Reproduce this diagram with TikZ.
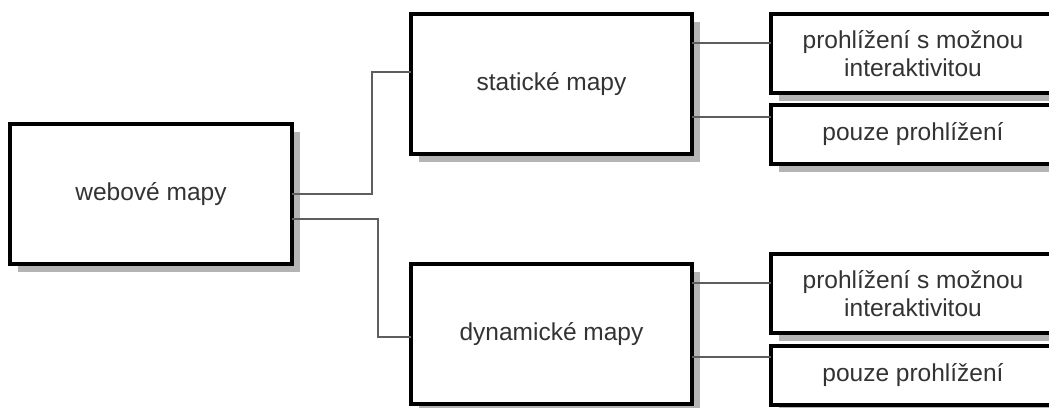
\documentclass[tikz,border=0pt]{standalone}
\usepackage{fontspec}
\setmainfont{Liberation Sans}
\usetikzlibrary{shadows}
\definecolor{txt}{HTML}{333333}
\definecolor{conncol}{HTML}{5E5E5E}
\definecolor{shad}{HTML}{B4B4B4}
\tikzset{
  box/.style={draw=black, line width=3.6pt, fill=white, rectangle, outer sep=0pt, inner sep=0pt,
    text=txt, align=center, font=\fontsize{24.5}{28}\selectfont,
    general shadow={shadow xshift=8pt, shadow yshift=-8pt, fill=shad}},
  conn/.style={draw=conncol, line width=2.6pt},
}
\begin{document}
\begin{tikzpicture}[x=1pt,y=-1pt]
\clip (0,0) rectangle (1049,407);
\useasboundingbox (0,0) rectangle (1049,407);
\node[box, minimum width=282pt, minimum height=140pt] (web) at (151,194) {webové mapy};
\node[box, minimum width=281pt, minimum height=140pt] (stat) at (551.5,84) {statické mapy};
\node[box, minimum width=281pt, minimum height=140pt] (dyn) at (551.5,334) {dynamické mapy};
\node[box, minimum width=284pt, minimum height=79pt] (s1) at (913,53.5) {prohlížení s možnou\\interaktivitou};
\node[box, minimum width=284pt, minimum height=59pt] (s2) at (913,134.5) {pouze prohlížení};
\node[box, minimum width=284pt, minimum height=79pt] (d1) at (913,293.5) {prohlížení s možnou\\interaktivitou};
\node[box, minimum width=284pt, minimum height=59pt] (d2) at (913,375.5) {pouze prohlížení};
\draw[conn] (web.east) -- ++(80,0) |- ([yshift=12pt]stat.west);
\draw[conn] ([yshift=-25pt]web.east) -- ++(86,0) |- ([yshift=-3pt]dyn.west);
\draw[conn] ([yshift=41pt]stat.east) -- ([yshift=41pt]stat.east -| s1.west);
\draw[conn] ([yshift=-33pt]stat.east) -- ([yshift=-33pt]stat.east -| s2.west);
\draw[conn] ([yshift=51pt]dyn.east) -- ([yshift=51pt]dyn.east -| d1.west);
\draw[conn] ([yshift=-23pt]dyn.east) -- ([yshift=-23pt]dyn.east -| d2.west);
\end{tikzpicture}
\end{document}
